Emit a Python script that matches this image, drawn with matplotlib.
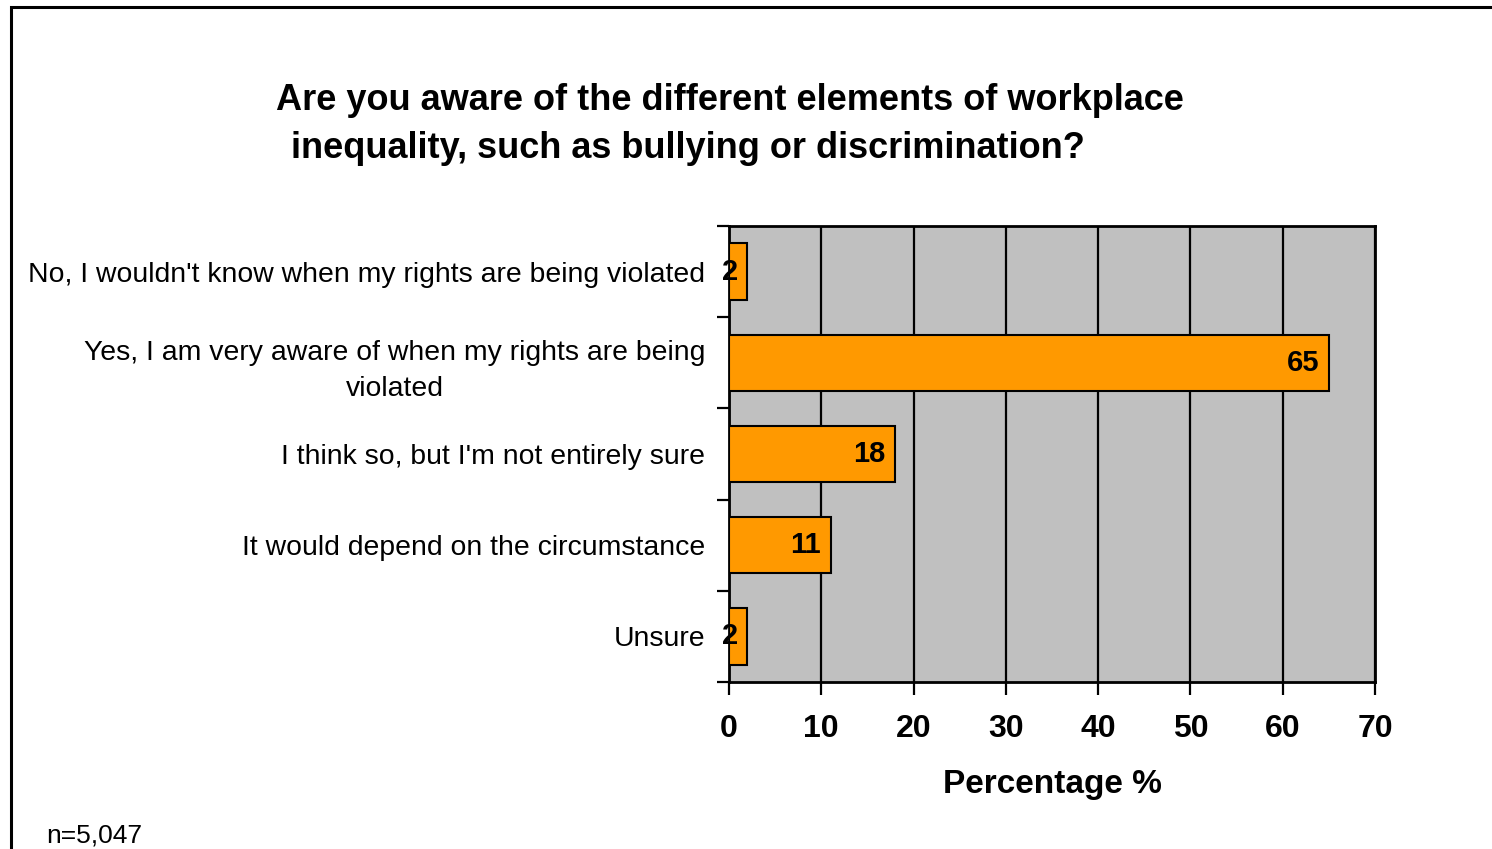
import matplotlib
matplotlib.use("Agg")
import matplotlib.pyplot as plt
from matplotlib.patches import Rectangle

plt.rcParams["font.family"] = ["Liberation Sans", "DejaVu Sans"]

# survey responses, top to bottom
answers = [
    "No, I wouldn't know when my rights are being violated",
    "Yes, I am very aware of when my rights are being\nviolated",
    "I think so, but I'm not entirely sure",
    "It would depend on the circumstance",
    "Unsure",
]
percent = [2, 65, 18, 11, 2]
x_ticks = [0, 10, 20, 30, 40, 50, 60, 70]

W, H = 1492, 849
fig = plt.figure(figsize=(W / 100, H / 100), dpi=100)

# outer chart frame (runs off the right and bottom edges)
fig.patches.append(Rectangle((11 / W, -0.05), 1.1, 1.05 - 7 / H, transform=fig.transFigure,
                             fill=False, edgecolor="black", linewidth=2.2, zorder=0))

ax = fig.add_axes([729 / W, 1 - 682 / H, (1375 - 729) / W, (682 - 226) / H])
ax.set_facecolor("#c0c0c0")

ypos = list(range(len(answers)))
ax.barh(ypos, percent, height=0.62, color="#ff9900", edgecolor="black", linewidth=1.5, zorder=3)
for y, v in zip(ypos, percent):
    ax.annotate(str(v), (v, y), xytext=(-7, 0), textcoords="offset points",
                ha="right", va="center", fontsize=21, fontweight="bold", zorder=4)

ax.set_xlim(0, 70)
ax.set_ylim(len(answers) - 0.5, -0.5)
ax.set_xticks(x_ticks)
ax.set_xticklabels([str(t) for t in x_ticks], fontsize=23, fontweight="bold")
ax.xaxis.grid(True, color="black", linewidth=1.6, zorder=1)
ax.set_axisbelow(True)

# category boundaries get the tick marks, labels sit between them
ax.set_yticks([i - 0.5 for i in range(len(answers) + 1)])
ax.set_yticklabels([])
ax.set_yticks(ypos, minor=True)
ax.set_yticklabels(answers, minor=True, fontsize=20.4, multialignment="center", linespacing=1.5)
ax.tick_params(axis="y", which="minor", length=0, pad=17)
ax.tick_params(axis="y", which="major", length=9, width=1.6, direction="out")
ax.tick_params(axis="x", length=9, width=1.6, direction="out", pad=14)

for s in ax.spines.values():
    s.set_linewidth(2)

ax.set_xlabel("Percentage %", fontsize=24, fontweight="bold", labelpad=18)

fig.text(729.5 / W, 1 - 100 / H, "Are you aware of the different elements of workplace",
         ha="center", va="center", fontsize=26, fontweight="bold")
fig.text(687.5 / W, 1 - 148 / H, "inequality, such as bullying or discrimination?",
         ha="center", va="center", fontsize=26, fontweight="bold")
fig.text(46 / W, 1 - 835 / H, "n=5,047", ha="left", va="center", fontsize=19)

fig.savefig("out.png", dpi=100)
